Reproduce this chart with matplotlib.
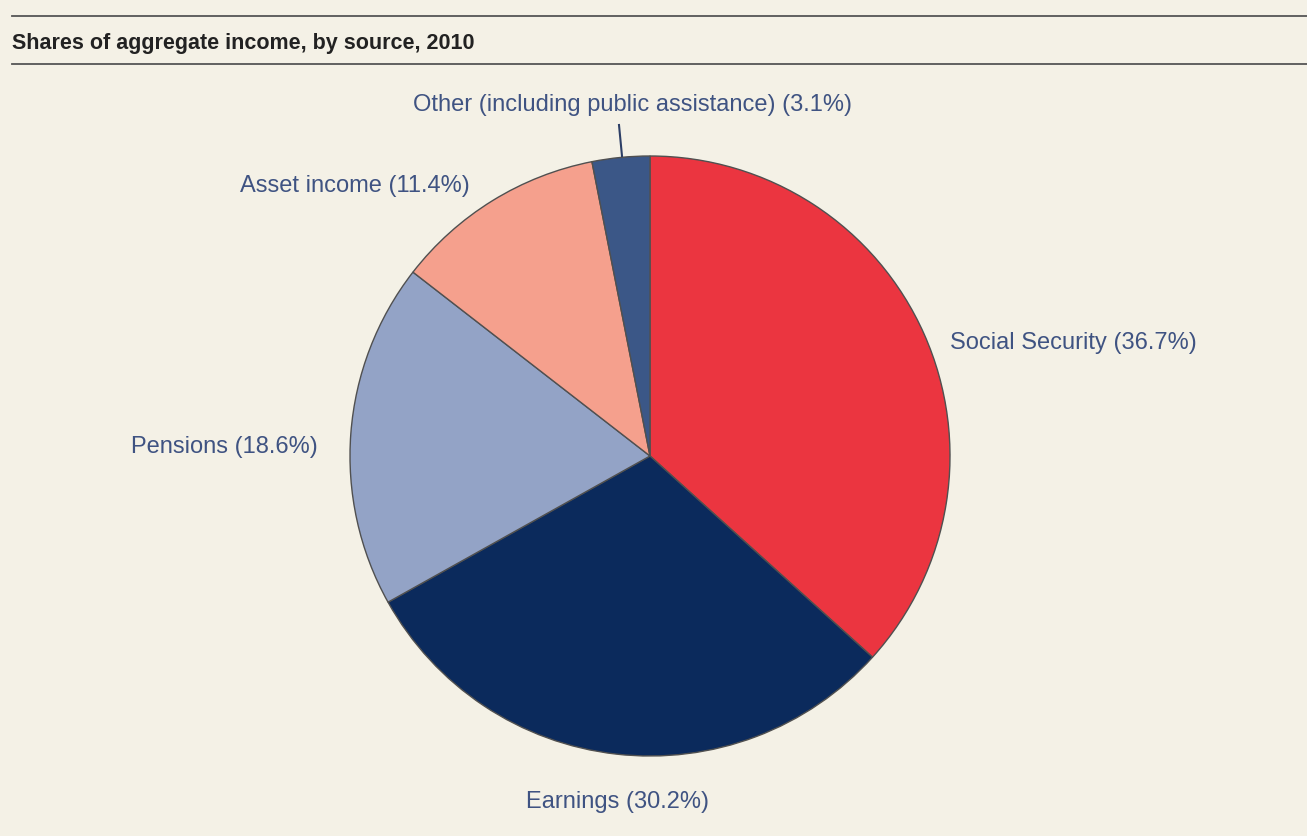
import matplotlib
matplotlib.use("Agg")
import matplotlib.pyplot as plt

# -----------------------------
# Data
# -----------------------------
sources = ["Social Security", "Earnings", "Pensions", "Asset income",
           "Other (including public assistance)"]
shares = [36.7, 30.2, 18.6, 11.4, 3.1]
colors = ["#EB3540", "#0B2A5C", "#93A3C6", "#F5A08D", "#3B5787"]

BG = "#F4F1E6"
TEXT = "#3F5382"
W, H = 1307, 837

fig = plt.figure(figsize=(W / 100, H / 100), dpi=100, facecolor=BG)
ax = fig.add_axes([0, 0, 1, 1])
ax.set_facecolor(BG)

# pie centre in pixel coords (y measured from bottom)
cx, cy, r = 650, H - 457, 300
wedges, _ = ax.pie(
    shares,
    colors=colors,
    startangle=90,
    counterclock=False,
    center=(cx, cy),
    radius=r,
    frame=True,
    wedgeprops=dict(edgecolor="#505050", linewidth=1.0),
)
ax.set_xlim(0, W)
ax.set_ylim(0, H)
ax.set_aspect("equal")
ax.axis("off")

# label placement (pixels from top-left)
label_pos = [
    (950, 343, "left"),
    (618, 802, "center"),
    (318, 447, "right"),
    (470, 186, "right"),
    (633, 105, "center"),
]
for name, val, (px, py, ha) in zip(sources, shares, label_pos):
    ax.text(px, H - py, f"{name} ({val}%)", ha=ha, va="center",
            fontsize=17, color=TEXT, family="Liberation Sans")

# leader line for the small slice
ax.plot([619, 622], [H - 126, H - 157], color="#2D3F66", linewidth=1.5)

# title block
ax.plot([12, W], [H - 17, H - 17], color="#555555", linewidth=1.3)
ax.plot([12, W], [H - 65, H - 65], color="#555555", linewidth=1.3)
ax.text(12, H - 43, "Shares of aggregate income, by source, 2010", ha="left",
        va="center", fontsize=15.5, fontweight="bold", color="#222222",
        family="Liberation Sans")

fig.savefig("out.png", dpi=100, facecolor=BG)
